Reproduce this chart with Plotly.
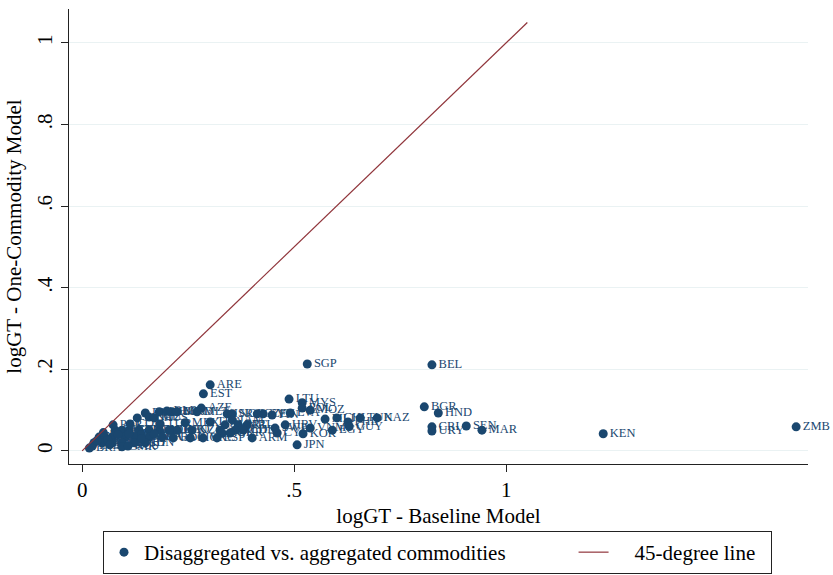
import plotly.graph_objects as go

codes = ["ZMB","KEN","MAR","SEN","CRI","URY","HND","BGR","BEL","SGP","KAZ","ARE","EST","LTU","MYS","MOZ","POL","JPN","KOR","ARM",
         "HRV","PHL","EGY","MLI","CHL","TUN","VNM","CYP","SWE","SVN","FIN","LVA","AZE","HUN","MKD","MLT","ISR","NOR","CZE","JAM",
         "SVK","PRT","IRL","DNK","GEO","NZL","AUT","NLD","CHE","ROU","UKR","BDI","CIV","GRC","ESP","PAN","ALB","BLR","MDA","KGZ",
         "MUS","JOR","ECU","GTM","SLV","PRY","BOL","LKA","NPL","KHM","MWI","TZA","UGA","GHA","NGA","BEN","MNG","BGD","PAK","ETH",
         "IDN","CMR","BRA","IND","PER","COL","TUR","MEX","THA","CHN","USA","DEU","FRA","GBR","ITA","CAN","AUS","RUS","ISL","GUY"]
base_model = [1.684,1.229,0.943,0.906,0.825,0.825,0.840,0.807,0.825,0.531,0.696,0.302,0.286,0.488,0.519,0.538,0.519,0.507,0.521,0.401,
              0.479,0.627,0.590,0.573,0.601,0.656,0.538,0.460,0.455,0.427,0.448,0.491,0.281,0.212,0.224,0.271,0.342,0.354,0.413,0.354,
              0.337,0.368,0.389,0.212,0.224,0.259,0.325,0.361,0.380,0.330,0.349,0.215,0.255,0.285,0.318,0.149,0.182,0.200,0.130,0.158,
              0.170,0.078,0.094,0.111,0.134,0.158,0.182,0.205,0.040,0.054,0.071,0.101,0.125,0.158,0.189,0.028,0.047,0.071,0.094,0.123,
              0.149,0.094,0.017,0.024,0.073,0.113,0.184,0.243,0.302,0.060,0.035,0.085,0.110,0.140,0.170,0.050,0.065,0.108,0.140,0.630]
one_commodity = [0.059,0.042,0.051,0.061,0.059,0.049,0.093,0.108,0.211,0.213,0.081,0.162,0.140,0.127,0.118,0.100,0.105,0.015,0.042,0.032,
                 0.064,0.071,0.051,0.078,0.081,0.081,0.056,0.044,0.056,0.091,0.088,0.093,0.105,0.096,0.096,0.096,0.091,0.091,0.091,0.076,
                 0.064,0.064,0.064,0.051,0.051,0.051,0.051,0.051,0.051,0.044,0.044,0.032,0.032,0.032,0.032,0.093,0.096,0.098,0.081,0.083,
                 0.081,0.051,0.051,0.051,0.051,0.051,0.051,0.051,0.034,0.034,0.034,0.034,0.034,0.034,0.034,0.020,0.020,0.020,0.020,0.020,
                 0.020,0.010,0.007,0.012,0.064,0.066,0.066,0.069,0.071,0.028,0.025,0.040,0.042,0.040,0.042,0.045,0.015,0.012,0.030,0.060]
line_x = [0, 1.05]
line_y = [0, 1.05]
x_ticks = [0, 0.5, 1]
x_ticklabels = ["0", ".5", "1"]
y_ticks = [0, 0.2, 0.4, 0.6, 0.8, 1]
y_ticklabels = ["0", ".2", ".4", ".6", ".8", "1"]

navy = "#1a476f"
maroon = "#90353b"
font = "Liberation Serif, Times New Roman, serif"

fig = go.Figure()
fig.add_trace(go.Scatter(
    x=base_model, y=one_commodity, mode="markers+text", text=codes,
    textposition="middle right", textfont=dict(family=font, size=12.5, color=navy),
    marker=dict(color=navy, size=9), cliponaxis=False,
    name="Disaggregated vs. aggregated commodities" + "\u00a0" * 12))
fig.add_trace(go.Scatter(
    x=line_x, y=line_y, mode="lines", line=dict(color=maroon, width=1.2),
    name="\u00a0" * 4 + "45-degree line" + "\u00a0" * 2))

fig.update_layout(
    width=833, height=575,
    margin=dict(l=69, r=25, t=9, b=111, autoexpand=False),
    paper_bgcolor="white", plot_bgcolor="white",
    font=dict(family=font, size=21, color="black"),
    showlegend=True,
    legend=dict(orientation="h", xref="container", yref="container",
                x=103/833, y=1 - 531/575, xanchor="left", yanchor="top",
                bordercolor="#222", borderwidth=1,
                font=dict(family=font, size=21), itemwidth=30),
    xaxis=dict(range=[-0.031, 1.712], tickvals=x_ticks, ticktext=x_ticklabels,
               showgrid=False, zeroline=False, showline=True, linecolor="#222", linewidth=1.3,
               ticks="outside", ticklen=7, tickcolor="#222",
               title=dict(text="logGT - Baseline Model", font=dict(size=21), standoff=6)),
    yaxis=dict(range=[-0.032, 1.083], tickvals=y_ticks, ticktext=y_ticklabels, tickangle=-90,
               showgrid=True, gridcolor="#eaf2f3", gridwidth=1.3, zeroline=False,
               showline=True, linecolor="#222", linewidth=1.3,
               ticks="outside", ticklen=7, tickcolor="#222",
               title=dict(text="logGT - One-Commodity Model", font=dict(size=21), standoff=6)),
)

fig.write_html("out.html")
